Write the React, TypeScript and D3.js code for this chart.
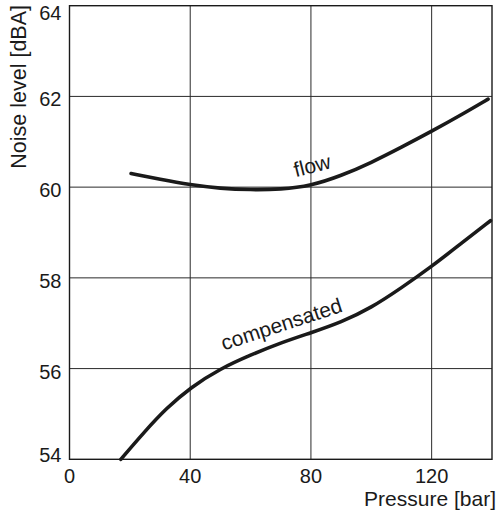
import { useRef, useEffect } from 'react';
import * as d3 from 'd3';

// values
const flowX = [20.4, 30, 40, 50, 60, 70, 80, 90, 100, 110, 120, 130, 138.7];
const flowY = [60.30, 60.17, 60.05, 59.97, 59.94, 59.95, 60.03, 60.25, 60.54, 60.88, 61.23, 61.6, 61.94];

const compX = [17, 25, 32, 40, 50, 60, 70, 80, 90, 100, 110, 120, 130, 139.5];
const compY = [54, 54.62, 55.12, 55.58, 56.0, 56.3, 56.57, 56.79, 57.02, 57.34, 57.78, 58.25, 58.77, 59.26];

const xTicks = [0, 40, 80, 120];
const yTicks = [54, 56, 58, 60, 62, 64];

const curveLabels = ['flow', 'compensated'];
const labelX = [81, 71];
const labelY = [60.32, 56.83];
const labelAngle = [-14, -18];

export default function App() {
    const ref = useRef<SVGSVGElement>(null);

    useEffect(() => {
        if (!ref.current) return;
        const svg = d3.select(ref.current);
        svg.selectAll('*').remove();

        const width = 497;
        const height = 516;
        const margin = { top: 5.7, right: 5, bottom: 56.7, left: 69.5 };
        const innerWidth = width - margin.left - margin.right;
        const innerHeight = height - margin.top - margin.bottom;
        const font = '"Liberation Sans", Arial, Helvetica, sans-serif';

        const x = d3.scaleLinear().domain([0, 140]).range([0, innerWidth]);
        const y = d3.scaleLinear().domain([54, 64]).range([innerHeight, 0]);

        const g = svg.append('g')
            .attr('transform', `translate(${margin.left}, ${margin.top})`);

        // grid
        g.selectAll('.vgrid').data(xTicks.slice(1)).enter().append('line')
            .attr('x1', d => x(d)).attr('x2', d => x(d))
            .attr('y1', 0).attr('y2', innerHeight)
            .attr('stroke', '#2a2a2a').attr('stroke-width', 1);
        g.selectAll('.hgrid').data(yTicks.slice(1, -1)).enter().append('line')
            .attr('x1', 0).attr('x2', innerWidth)
            .attr('y1', d => y(d)).attr('y2', d => y(d))
            .attr('stroke', '#2a2a2a').attr('stroke-width', 1);

        // frame
        g.append('rect')
            .attr('x', 0).attr('y', 0)
            .attr('width', innerWidth).attr('height', innerHeight)
            .attr('fill', 'none')
            .attr('stroke', '#1a1a1a').attr('stroke-width', 1.4);

        // curves
        const line = d3.line<[number, number]>()
            .x(d => x(d[0]))
            .y(d => y(d[1]))
            .curve(d3.curveBasis);

        const series = [
            flowX.map((v, i) => [v, flowY[i]] as [number, number]),
            compX.map((v, i) => [v, compY[i]] as [number, number]),
        ];
        series.forEach(s => {
            g.append('path')
                .attr('d', line(s))
                .attr('fill', 'none')
                .attr('stroke', '#1a1a1a')
                .attr('stroke-width', 3.6)
                .attr('stroke-linecap', 'round');
        });

        // curve labels
        curveLabels.forEach((t, i) => {
            g.append('text')
                .attr('transform', `translate(${x(labelX[i])}, ${y(labelY[i])}) rotate(${labelAngle[i]})`)
                .attr('text-anchor', 'middle')
                .style('font-family', font)
                .style('font-size', '21px')
                .style('fill', '#1a1a1a')
                .text(t);
        });

        // x tick labels
        g.selectAll('.xt').data(xTicks).enter().append('text')
            .attr('x', d => x(d))
            .attr('y', innerHeight + 24)
            .attr('text-anchor', 'middle')
            .style('font-family', font)
            .style('font-size', '20px')
            .style('fill', '#1a1a1a')
            .text(d => d);

        // y tick labels (end ticks pulled inside)
        g.selectAll('.yt').data(yTicks).enter().append('text')
            .attr('x', -8)
            .attr('y', d => d === 64 ? y(d) + 14.5 : d === 54 ? y(d) + 2.5 : y(d) + 10)
            .attr('text-anchor', 'end')
            .style('font-family', font)
            .style('font-size', '20px')
            .style('fill', '#1a1a1a')
            .text(d => d);

        // axis titles
        svg.append('text')
            .attr('x', width - 1)
            .attr('y', height - 10)
            .attr('text-anchor', 'end')
            .style('font-family', font)
            .style('font-size', '21px')
            .style('fill', '#1a1a1a')
            .text('Pressure [bar]');

        svg.append('text')
            .attr('transform', `translate(26, 5) rotate(-90)`)
            .attr('text-anchor', 'end')
            .style('font-family', font)
            .style('font-size', '21.5px')
            .style('fill', '#1a1a1a')
            .text('Noise level [dBA]');
    }, []);

    return (
        <svg ref={ref} width={497} height={516}
            style={{ position: 'absolute', left: 0, top: 0, background: '#fff' }} />
    );
}
